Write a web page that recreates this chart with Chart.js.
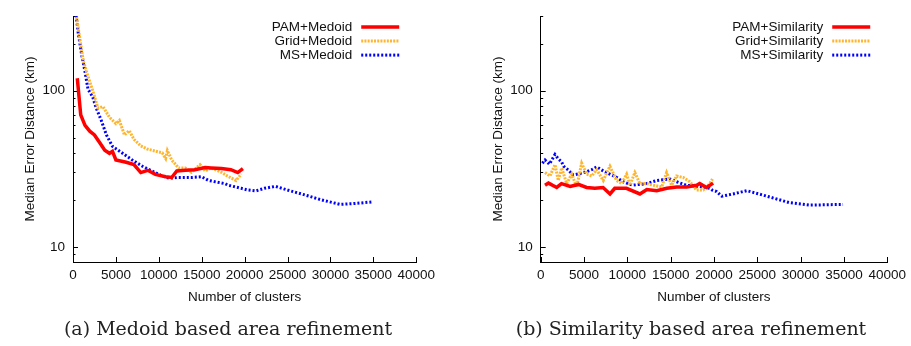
<!DOCTYPE html>
<html><head><meta charset="utf-8">
<script src="https://cdn.jsdelivr.net/npm/chart.js@4.4.0/dist/chart.umd.min.js"></script>
<style>
html,body{margin:0;padding:0;background:#fff;width:911px;height:346px;overflow:hidden;position:relative}
.wrap{position:absolute;top:0;height:346px}
.cap{position:absolute;font-family:"DejaVu Serif",serif;font-size:19px;color:#222;white-space:nowrap;transform:translateX(-50%);line-height:normal}
</style></head><body>
<div class="wrap" style="left:0;width:440px"><canvas id="c1"></canvas></div>
<div class="wrap" style="left:440px;width:471px"><canvas id="c2"></canvas></div>
<div class="cap" style="left:228px;top:317px">(a) Medoid based area refinement</div>
<div class="cap" style="left:691px;top:317px">(b) Similarity based area refinement</div>
<script>
// ---- data ----
const xTickValues = [0,5000,10000,15000,20000,25000,30000,35000,40000];
const yLabelTicks = [10,100];
const yMinorTicks = [9,20,30,40,50,60,70,80,90,200,300];
const xTitle = 'Number of clusters';
const yTitle = 'Median Error Distance (km)';

// (a) Medoid
const pamMedoidX = [500,900,1400,1950,2500,3100,3700,4250,4600,5000,6200,7100,7900,8700,9600,10800,11500,12100,13100,14200,15400,16100,17300,18400,19200,19800];
const pamMedoidY = [120,70,60,55,52,46.5,41.5,39.7,40.9,36,34.8,33.6,29.9,30.9,29.1,28.1,27.8,30.6,30.9,31.2,32.2,32,31.7,31.2,29.9,31.7];
const gridMedoidX = [250,400,800,1200,1750,2300,2900,3500,4250,5000,5400,6000,6550,7100,7900,8650,9600,10400,10800,11000,11500,12300,13100,13800,14800,15400,16100,17300,18000,19000,19600];
const gridMedoidY = [340,300,215,155,123,100,77.5,79,67.5,61.5,64.4,52,55.5,48.8,44.3,42.3,41,40,36.8,41.3,36,32,32,30,33.6,30.6,32,30,28.4,26.6,29.2];
const msMedoidX = [250,400,600,1000,1400,1750,2300,2700,3300,3900,4600,5700,6900,8100,9200,10400,11200,12300,13800,15000,15800,17700,18100,19600,20400,21300,22300,23600,25000,26900,28800,31100,32600,34900];
const msMedoidY = [340,292,236,171,132,102,91,77.5,64.4,52,44,40,36,32.8,30.6,28.4,27.5,27.8,27.8,28.1,26.6,25.4,24.8,23.7,23.1,22.8,23.7,24.4,23.1,21.6,20.1,18.7,18.9,19.4];

// (b) Similarity
const pamSimX = [500,900,1850,2400,3400,4350,5300,6250,7200,8000,8550,9900,11450,12250,13400,14550,15700,16850,18000,18350,19150,19900];
const pamSimY = [24.8,25.6,24.0,25.4,24.4,25.1,24.0,23.7,24.0,21.8,23.7,23.7,21.8,23.3,22.9,23.7,24.2,24.2,24.8,25.4,24.0,25.6];
const gridSimX = [500,1070,1650,2030,2420,3000,3580,4150,4730,5300,5880,6460,7220,7990,8760,9340,9920,10300,10870,11450,12230,13000,13970,14530,15100,15680,16440,17220,17990,18750,19520,19830];
const gridSimY = [29.9,28.4,33.6,26.6,32,25.4,29.2,24.2,34.3,29.2,28.4,31.2,26.6,32.8,26.6,25.4,29.2,24.8,29.9,25.4,25.4,24.8,24.2,29.9,24.8,28.4,27.8,26.1,23.1,23.1,25.4,27.2];
const msSimX = [200,500,1000,1650,2050,2400,2650,3200,3750,5000,5900,6450,7400,8700,9500,10600,12200,13400,14900,15700,16800,18400,19500,19800,20300,20900,22200,23800,26100,28700,31000,33000,34900];
const msSimY = [34.3,36,33.8,39,36.5,35.1,32.8,31,28.8,29.9,31.2,32.5,30.2,28,26.1,24.8,25.4,26.6,27.2,26.1,24.8,24.3,23.7,23.1,22.6,21.1,21.8,22.9,21.1,19.2,18.5,18.6,18.7];

const seriesNames1 = ['PAM+Medoid','Grid+Medoid','MS+Medoid'];
const seriesNames2 = ['PAM+Similarity','Grid+Similarity','MS+Similarity'];

// ---- styles ----
const FONT = {family:'"Liberation Sans", Arial, sans-serif', size:13.5};
const STY = [
  {borderColor:'#ff0000', borderWidth:3.5, borderDash:[]},
  {borderColor:'#ffb52e', borderWidth:3, borderDash:[2,1.2]},
  {borderColor:'#0000ff', borderWidth:3, borderDash:[2,2]}
];
const pts = (xs,ys)=>xs.map((x,i)=>({x:x,y:ys[i]}));

const axisTicks = {
  id:'axisTicks',
  beforeDatasetsDraw(chart){
    const {ctx, chartArea:a, scales:{x,y}} = chart;
    ctx.save(); ctx.strokeStyle='#000'; ctx.lineWidth=1; ctx.beginPath();
    yLabelTicks.forEach(v=>{const p=Math.round(y.getPixelForValue(v))+0.5; ctx.moveTo(a.left,p); ctx.lineTo(a.left+5,p);});
    yMinorTicks.forEach(v=>{const p=Math.round(y.getPixelForValue(v))+0.5; ctx.moveTo(a.left,p); ctx.lineTo(a.left+2.5,p);});
    xTickValues.forEach(v=>{const p=Math.round(x.getPixelForValue(v))+0.5; ctx.moveTo(p,a.bottom); ctx.lineTo(p,a.bottom-5);});
    ctx.stroke(); ctx.restore();
  }
};
const keyLegend = {
  id:'keyLegend',
  afterDatasetsDraw(chart){
    const {ctx, chartArea:a} = chart;
    ctx.save();
    ctx.font = FONT.size+'px '+FONT.family;
    ctx.textAlign='right'; ctx.textBaseline='middle'; ctx.fillStyle='#111';
    chart.data.datasets.forEach((ds,i)=>{
      const yy = a.top + 11 + 14*i;
      ctx.fillText(ds.label, a.right-64, yy+0.5);
      ctx.strokeStyle=ds.borderColor; ctx.lineWidth=ds.borderWidth; ctx.setLineDash(ds.borderDash||[]);
      ctx.beginPath(); ctx.moveTo(a.right-55, yy); ctx.lineTo(a.right-17, yy); ctx.stroke();
    });
    ctx.restore();
  }
};

function makeChart(id, names, sets, yAxisW, padRight, titlePad){
  const datasets = sets.map((s,i)=>Object.assign({
    label:names[i], data:pts(s[0],s[1]), pointRadius:0, tension:0, fill:false, clip:0,
    borderCapStyle:'butt', borderJoinStyle:'miter'
  }, STY[i]));
  return new Chart(document.getElementById(id), {
    type:'line',
    data:{datasets},
    plugins:[axisTicks, keyLegend],
    options:{
      responsive:true, maintainAspectRatio:false, animation:false, devicePixelRatio:1,
      layout:{padding:{top:3,right:padRight,bottom:0,left:0}},
      plugins:{legend:{display:false}, tooltip:{enabled:false}},
      scales:{
        x:{type:'linear', min:0, max:40000,
          grid:{display:false, drawTicks:false},
          border:{display:true, color:'#000', width:1},
          ticks:{padding:5, font:FONT, color:'#111', maxRotation:0, autoSkip:false, callback:v=>String(v)},
          afterBuildTicks:s=>{s.ticks = xTickValues.map(v=>({value:v}));},
          afterFit:s=>{s.height = 84;},
          title:{display:true, text:xTitle, font:FONT, color:'#111', padding:{top:0,bottom:41}}
        },
        y:{type:'logarithmic', min:8, max:300,
          grid:{display:false, drawTicks:false},
          border:{display:true, color:'#000', width:1},
          ticks:{padding:8, font:FONT, color:'#111', autoSkip:false, callback:v=>String(v)},
          afterBuildTicks:s=>{s.ticks = yLabelTicks.map(v=>({value:v}));},
          afterFit:s=>{s.width = yAxisW;},
          title:{display:true, text:yTitle, font:FONT, color:'#111', padding:{top:titlePad,bottom:0}}
        }
      }
    }
  });
}

makeChart('c1', seriesNames1, [[pamMedoidX,pamMedoidY],[gridMedoidX,gridMedoidY],[msMedoidX,msMedoidY]], 73, 19, 22);
makeChart('c2', seriesNames2, [[pamSimX,pamSimY],[gridSimX,gridSimY],[msSimX,msSimY]], 100.7, 23.3, 50);
</script>
</body></html>
